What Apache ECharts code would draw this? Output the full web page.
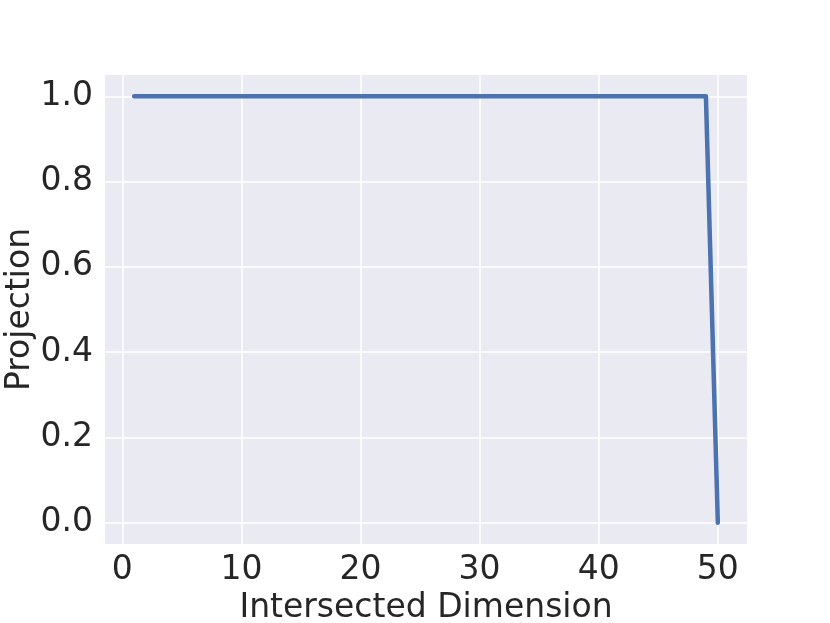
<!DOCTYPE html>
<html>
<head>
<meta charset="utf-8">
<script src="https://cdn.jsdelivr.net/npm/echarts@6/dist/echarts.min.js"></script>
<style>
  html, body { margin: 0; padding: 0; background: #fff; }
  #main { width: 830px; height: 623px; }
</style>
</head>
<body>
<div id="main"></div>
<script>
// intersected dimension (1..50) and projection values
var dims = [];
for (var d = 1; d <= 50; d++) dims.push(d);
var projection = [1, 1, 1, 1, 1, 1, 1, 1, 1, 1,
                  1, 1, 1, 1, 1, 1, 1, 1, 1, 1,
                  1, 1, 1, 1, 1, 1, 1, 1, 1, 1,
                  1, 1, 1, 1, 1, 1, 1, 1, 1, 1,
                  1, 1, 1, 1, 1, 1, 1, 1, 1, 0];
var xTicks = [0, 10, 20, 30, 40, 50];
var yTicks = [0, 0.2, 0.4, 0.6, 0.8, 1.0];

var chart = echarts.init(document.getElementById('main'));
var font = 'DejaVu Sans';

chart.setOption({
  animation: false,
  grid: {
    left: 105, right: 83, top: 75, bottom: 79,
    containLabel: false,
    outerBoundsMode: 'none',
    show: true, backgroundColor: '#eaeaf2', borderWidth: 0
  },
  xAxis: {
    type: 'value',
    min: -1.45, max: 52.45,
    name: 'Intersected Dimension',
    nameLocation: 'middle',
    nameGap: 48,
    nameTextStyle: { fontFamily: font, fontSize: 33, color: '#262626' },
    axisLine: { show: false },
    axisTick: { show: false, customValues: xTicks },
    axisLabel: {
      customValues: xTicks,
      fontFamily: font, fontSize: 33, color: '#262626', margin: 10
    },
    splitLine: { show: true, lineStyle: { color: '#ffffff', width: 1.5 } }
  },
  yAxis: {
    type: 'value',
    min: -0.05, max: 1.05,
    name: 'Projection',
    nameLocation: 'middle',
    nameGap: 68,
    nameMoveOverlap: false,
    nameTextStyle: { fontFamily: font, fontSize: 33, color: '#262626' },
    axisLine: { show: false },
    axisTick: { show: false, customValues: yTicks },
    axisLabel: {
      customValues: yTicks,
      fontFamily: font, fontSize: 33, color: '#262626', margin: 12,
      formatter: function (v) { return v.toFixed(1); }
    },
    splitLine: { show: true, lineStyle: { color: '#ffffff', width: 1.5 } }
  },
  series: [{
    type: 'line',
    data: dims.map(function (d, i) { return [d, projection[i]]; }),
    symbol: 'none',
    lineStyle: { color: '#4c72b0', width: 4.5, cap: 'round', join: 'round' }
  }]
});
</script>
</body>
</html>
